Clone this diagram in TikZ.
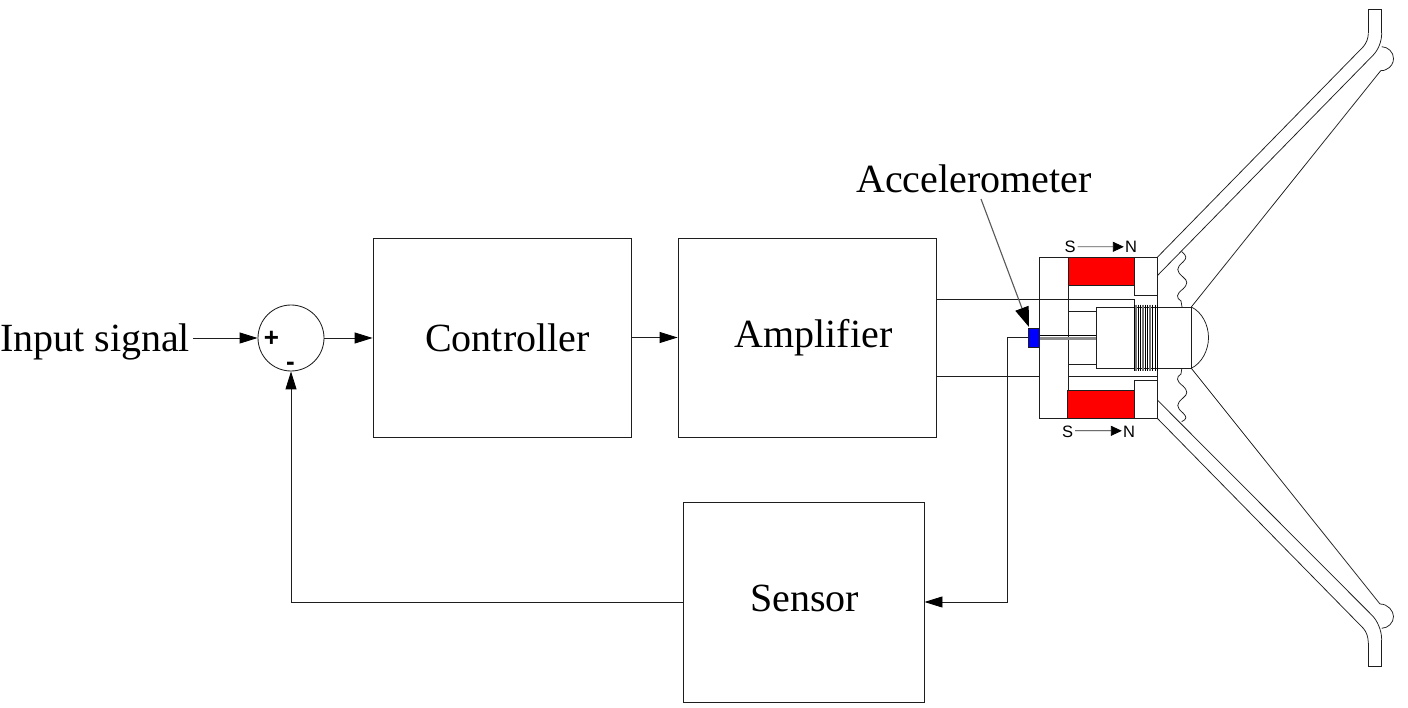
\documentclass[tikz,border=0pt]{standalone}
\usepackage{fontspec}
\setmainfont{Liberation Serif}
\newfontfamily\smallsans{Liberation Sans}
\usetikzlibrary{arrows.meta}
\definecolor{magred}{RGB}{255,0,0}
\definecolor{accblue}{RGB}{0,0,255}
\definecolor{ln}{RGB}{30,30,30}
\tikzset{
  x=1pt,y=-1pt,
  ln/.style={draw=ln,line width=0.85pt},
  thin ln/.style={draw=ln,line width=0.75pt},
  box/.style={ln,rectangle,minimum width=#1,inner sep=0pt},
  lab/.style={font=\fontsize{40}{40}\selectfont,inner sep=0pt,anchor=base},
  pole/.style={font=\smallsans\fontsize{16.5}{16.5}\selectfont,inner sep=0pt,anchor=base},
  sign/.style={font=\smallsans\bfseries\fontsize{26}{26}\selectfont,inner sep=0pt},
  flow/.style={ln,-{Triangle[length=18pt,width=11pt,color=black]}},
  polarrow/.style={ln,-{Triangle[length=11pt,width=10pt,color=black]}},
  coilblack/.style={draw=black,line width=0.9pt},
  coilgray/.style={draw=black!55,line width=2.4pt},
}
\begin{document}
\begin{tikzpicture}
\useasboundingbox (0,0) rectangle (1408,708);
% blocks
\node[box=258pt,minimum height=199pt] (ctrl) at (502,337.5) {};
\node[box=258pt,minimum height=199pt] (amp) at (807,337.5) {};
\node[box=241pt,minimum height=200pt] (sens) at (803.5,602) {};
\node[ln,circle,minimum size=66pt,inner sep=0pt] (sum) at (291,338) {};
\node[lab] (ctrltxt) at (507.5,352) {Controller};
\node[lab] (amptxt) at (813.5,348) {Amplifier};
\node[lab] (senstxt) at (804.5,611) {Sensor};
\node[lab] (input) at (95,352) {Input signal};
\node[lab] (acctxt) at (974,192.5) {Accelerometer};
\node[sign] (plus) at (271.5,339) {+};
\node[sign] (minus) at (290.5,366) {-};
% loudspeaker body
\draw[ln] (1039.3,257.3) rectangle (1157.3,418.3);
\fill[magred] (1068,257.3) rectangle (1134,285.3);
\fill[magred] (1067.5,390) rectangle (1134,418.3);
\draw[ln] (1068,257.3) rectangle (1134,285.3);
\draw[ln] (1067.5,390) rectangle (1134,418.3);
\draw[ln] (1134,257.3) -- (1134,295.3) -- (1157.3,295.3);
\draw[ln] (1134,418.3) -- (1134,380.3) -- (1157.3,380.3);
\draw[ln] (1068,285.3) -- (1068,390);
\coordinate (ampT) at (amp.east |- 0,299.5);
\coordinate (ampB) at (amp.east |- 0,376);
\draw[ln] (ampT) -- (1134,299.5) -- (1134,305);
\draw[ln] (ampB) -- (1039.3,376);
\draw[ln] (1068,376) -- (1157.3,376) -- (1157.3,368);
\draw[ln] (1068,311.3) -- (1096,311.3);
\draw[ln] (1068,364) -- (1096,364);
% voice coil
\draw[ln] (1191.3,307) -- (1096,307) -- (1096,368.3) -- (1191.3,368.3) -- cycle;
\foreach \xx in {1136,1143,1150}
  \draw[coilgray] (\xx,304.7) -- (\xx,370.7);
\foreach \xx in {1134,1138.2,1140.6,1145.3,1147.6,1152.4,1155,1157.3}
  \draw[coilblack] (\xx,304.7) -- (\xx,370.7);
\draw[thin ln] (1191.3,307) .. controls (1202,312) and (1208.5,325) .. (1208.5,337.6) .. controls (1208.5,350) and (1202,363) .. (1191.3,368.3);
% rod
\fill[black!45] (1039.3,336.8) rectangle (1096,340.2);
\draw[draw=black,line width=1pt] (1039.3,335.6) -- (1096,335.6);
% accelerometer
\node[draw=ln,fill=accblue,line width=0.6pt,minimum width=10.6pt,minimum height=18.7pt,inner sep=0pt] (acc) at (1034,337.6) {};
\coordinate (accTop) at (1029,327);
\coordinate (accFrom) at (981,199);
\draw[draw=black!65,line width=1.1pt,-{Triangle[length=20pt,width=14pt,color=black]}] (accFrom) -- (accTop);
% surround
\draw[thin ln] (1181.7,251.7) .. controls (1187,256) and (1187,258) .. (1183,262) .. controls (1176,268) and (1176,271) .. (1183,277) .. controls (1188,281) and (1188,284) .. (1183,289) .. controls (1176,294) and (1176,298) .. (1181,301) -- (1182,307);
\draw[thin ln] (1181.7,369) -- (1181,374) .. controls (1176,377) and (1176,381) .. (1183,386) .. controls (1188,391) and (1188,394) .. (1183,398) .. controls (1176,404) and (1176,407) .. (1183,413) .. controls (1187,417) and (1187,419) .. (1181.7,421.7);
% cone upper
\draw[thin ln] (1157.3,257.3) -- (1363.3,46.7) .. controls (1366.5,43) and (1368.3,38) .. (1368.3,33.3);
\draw[ln] (1368.3,33.3) -- (1368.3,9) -- (1381.7,9) -- (1381.7,33);
\draw[thin ln] (1381.7,33) .. controls (1381.7,42) and (1378,50) .. (1373.3,55) -- (1157.3,275.7);
\draw[thin ln] (1191.3,307) -- (1380.7,70.7);
\draw[thin ln] (1380.7,70.7) .. controls (1383,70.5) and (1385,70.5) .. (1386,69.5) .. controls (1391,67.5) and (1393.5,63) .. (1393.5,58.5) .. controls (1393.5,52) and (1388,47) .. (1381.7,46.7);
% cone lower
\draw[thin ln] (1157.3,418.3) -- (1363.3,628.3) .. controls (1366.5,632) and (1368.3,637) .. (1368.3,643.3);
\draw[ln] (1368.3,643.3) -- (1368.3,666) -- (1381.7,666) -- (1381.7,640);
\draw[thin ln] (1381.7,640) .. controls (1381.7,630) and (1377,620) .. (1371.7,615) -- (1157.3,400);
\draw[thin ln] (1191.3,368.3) -- (1380,604);
\draw[thin ln] (1380,604) .. controls (1388,604) and (1393.5,611) .. (1393.5,616.5) .. controls (1393.5,623) and (1388,628) .. (1381.7,628.3);
% poles
\node[pole] (s1) at (1070,253) {S};
\node[pole] (n1) at (1131,253) {N};
\node[pole] (s2) at (1067.5,437) {S};
\node[pole] (n2) at (1129,437) {N};
\draw[draw=black!65,line width=0.85pt,-{Triangle[length=11pt,width=10pt,color=black]}] ([xshift=2pt,yshift=0.5pt]s1.east) -- ([xshift=-1pt,yshift=0.5pt]n1.west);
\draw[polarrow] ([xshift=2pt,yshift=0.5pt]s2.east) -- ([xshift=-1pt,yshift=0.5pt]n2.west);
% connectors
\coordinate (inStart) at (193,338);
\draw[flow] (inStart) -- (sum.west);
\draw[flow] (sum.east) -- (ctrl.west |- sum.east);
\draw[flow] (ctrl.east) -- (amp.west);
\coordinate (turnA) at (1007.3,337.6);
\coordinate (turnB) at (1007.3,602);
\coordinate (turnC) at (291,602);
\draw[flow] (acc.west) -- (turnA) -- (turnB) -- (sens.east);
\draw[flow] (sens.west) -- (turnC) -- (sum.south);
\end{tikzpicture}
\end{document}
